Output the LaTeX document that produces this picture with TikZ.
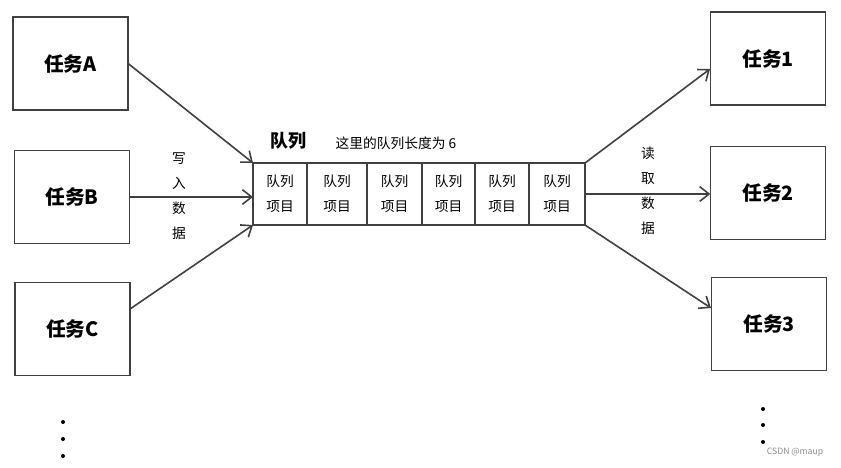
\documentclass[tikz,border=0pt]{standalone}
\usepackage{fontspec}
\usetikzlibrary{arrows.meta}
\newfontfamily\cjk{Noto Sans CJK SC}
\setmainfont{Noto Sans CJK SC}

\tikzset{every picture/.style={line width=0.75pt}}
\tikzset{
  taskbox/.style={draw=black!75, line width=1.2pt, inner sep=0pt, outer sep=0pt,
    minimum width=86.5pt, minimum height=69.5pt, font=\cjk\bfseries\fontsize{14.8}{16}\selectfont},
  qcell/.style={draw=black!75, line width=1.2pt, inner sep=0pt, outer sep=0pt,
    minimum height=46.5pt, align=center, font=\cjk\fontsize{10.3}{18.75}\selectfont},
  feed/.style={draw=black!75, line width=1.2pt, -{Straight Barb[length=7pt,width=11pt,line width=1.2pt]}},
  vlabel/.style={inner sep=0pt, align=center, font=\cjk\fontsize{10.3}{18.75}\selectfont}
}

\begin{document}
\begin{tikzpicture}[x=0.75pt,y=0.75pt,yscale=-1,xscale=1]
		\useasboundingbox (0,0) rectangle (841,467);
		
		%Shape: Rectangle
		\node [taskbox] (taskA) at (70.5,63.5) {任务A};
		%Shape: Rectangle
		\node [taskbox] (taskB) at (72,197) {任务B};
		%Shape: Rectangle
		\node [taskbox] (taskC) at (72.5,329) {任务C};
		%Shape: Rectangle
		\node [taskbox] (task1) at (768,58.5) {任务1};
		%Shape: Rectangle
		\node [taskbox] (task2) at (768,193) {任务2};
		%Shape: Rectangle
		\node [taskbox] (task3) at (769,324) {任务3};
		
		%Queue cells
		\node [qcell, minimum width=40.5pt] (q1) at (280,194) {队列\\项目};
		\node [qcell, minimum width=45pt] (q2) at (337,194) {队列\\项目};
		\node [qcell, minimum width=41.25pt] (q3) at (394.5,194) {队列\\项目};
		\node [qcell, minimum width=39.75pt] (q4) at (448.5,194) {队列\\项目};
		\node [qcell, minimum width=40.5pt] (q5) at (502,194) {队列\\项目};
		\node [qcell, minimum width=42pt] (q6) at (557,194) {队列\\项目};
		
		%Free ends of connectors
		\coordinate (cOut) at (130,309);
		\coordinate (in1) at (710,69);
		\coordinate (in3) at (711,308);
		
		%Straight Lines
		\draw [feed] (taskA.east) -- (q1.north west);
		%Straight Lines
		\draw [feed] (taskB.east) -- (taskB.east -| q1.west);
		%Straight Lines
		\draw [feed] (cOut) -- (q1.south west);
		%Straight Lines
		\draw [feed] (q6.north east) -- (in1);
		%Straight Lines
		\draw [feed] (q6.east) -- (q6.east -| task2.west);
		%Straight Lines
		\draw [feed] (q6.south east) -- (in3);
		
		% Text Node
		\node [inner sep=0pt, font=\cjk\bfseries\fontsize{13.5}{15}\selectfont] (qtitle) at (288,141) {队列};
		% Text Node
		\node [inner sep=0pt, font=\cjk\fontsize{10.3}{12}\selectfont] (qnote) at (396,143) {这里的队列长度为 6};
		% Text Node
		\node [vlabel] (wlabel) at (179,196) {写\\入\\数\\据};
		% Text Node
		\node [vlabel] (rlabel) at (648,191) {读\\取\\数\\据};
		
		%Dots
		\foreach \y in {422,439,456} \fill (63,\y) circle (2);
		\foreach \y in {409,425,442} \fill (763,\y) circle (2);
		
		% Text Node
		\node [inner sep=0pt, text=black!45, font=\fontsize{6.5}{8}\selectfont] (mark) at (795,452) {CSDN @maup};
\end{tikzpicture}
\end{document}
